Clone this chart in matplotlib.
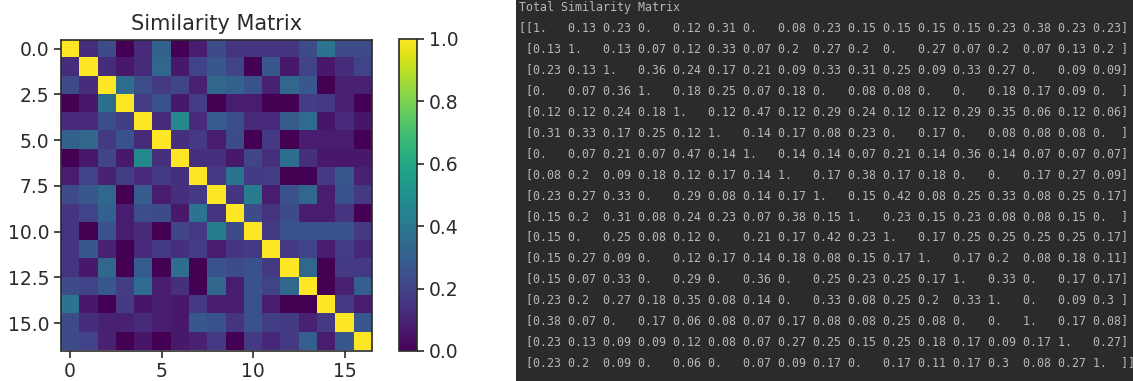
import numpy as np
import matplotlib
matplotlib.use("Agg")
import matplotlib.pyplot as plt

# similarity values as printed in the console (17 x 17)
sim = np.array([
    [1.0, 0.13, 0.23, 0.0, 0.12, 0.31, 0.0, 0.08, 0.23, 0.15, 0.15, 0.15, 0.15, 0.23, 0.38, 0.23, 0.23],
    [0.13, 1.0, 0.13, 0.07, 0.12, 0.33, 0.07, 0.2, 0.27, 0.2, 0.0, 0.27, 0.07, 0.2, 0.07, 0.13, 0.2],
    [0.23, 0.13, 1.0, 0.36, 0.24, 0.17, 0.21, 0.09, 0.33, 0.31, 0.25, 0.09, 0.33, 0.27, 0.0, 0.09, 0.09],
    [0.0, 0.07, 0.36, 1.0, 0.18, 0.25, 0.07, 0.18, 0.0, 0.08, 0.08, 0.0, 0.0, 0.18, 0.17, 0.09, 0.0],
    [0.12, 0.12, 0.24, 0.18, 1.0, 0.12, 0.47, 0.12, 0.29, 0.24, 0.12, 0.12, 0.29, 0.35, 0.06, 0.12, 0.06],
    [0.31, 0.33, 0.17, 0.25, 0.12, 1.0, 0.14, 0.17, 0.08, 0.23, 0.0, 0.17, 0.0, 0.08, 0.08, 0.08, 0.0],
    [0.0, 0.07, 0.21, 0.07, 0.47, 0.14, 1.0, 0.14, 0.14, 0.07, 0.21, 0.14, 0.36, 0.14, 0.07, 0.07, 0.07],
    [0.08, 0.2, 0.09, 0.18, 0.12, 0.17, 0.14, 1.0, 0.17, 0.38, 0.17, 0.18, 0.0, 0.0, 0.17, 0.27, 0.09],
    [0.23, 0.27, 0.33, 0.0, 0.29, 0.08, 0.14, 0.17, 1.0, 0.15, 0.42, 0.08, 0.25, 0.33, 0.08, 0.25, 0.17],
    [0.15, 0.2, 0.31, 0.08, 0.24, 0.23, 0.07, 0.38, 0.15, 1.0, 0.23, 0.15, 0.23, 0.08, 0.08, 0.15, 0.0],
    [0.15, 0.0, 0.25, 0.08, 0.12, 0.0, 0.21, 0.17, 0.42, 0.23, 1.0, 0.17, 0.25, 0.25, 0.25, 0.25, 0.17],
    [0.15, 0.27, 0.09, 0.0, 0.12, 0.17, 0.14, 0.18, 0.08, 0.15, 0.17, 1.0, 0.17, 0.2, 0.08, 0.18, 0.11],
    [0.15, 0.07, 0.33, 0.0, 0.29, 0.0, 0.36, 0.0, 0.25, 0.23, 0.25, 0.17, 1.0, 0.33, 0.0, 0.17, 0.17],
    [0.23, 0.2, 0.27, 0.18, 0.35, 0.08, 0.14, 0.0, 0.33, 0.08, 0.25, 0.2, 0.33, 1.0, 0.0, 0.09, 0.3],
    [0.38, 0.07, 0.0, 0.17, 0.06, 0.08, 0.07, 0.17, 0.08, 0.08, 0.25, 0.08, 0.0, 0.0, 1.0, 0.17, 0.08],
    [0.23, 0.13, 0.09, 0.09, 0.12, 0.08, 0.07, 0.27, 0.25, 0.15, 0.25, 0.18, 0.17, 0.09, 0.17, 1.0, 0.27],
    [0.23, 0.2, 0.09, 0.0, 0.06, 0.0, 0.07, 0.09, 0.17, 0.0, 0.17, 0.11, 0.17, 0.3, 0.08, 0.27, 1.0],
])

x_ticks = [0, 5, 10, 15]
y_ticks = [0.0, 2.5, 5.0, 7.5, 10.0, 12.5, 15.0]
cbar_ticks = [0.0, 0.2, 0.4, 0.6, 0.8, 1.0]

W, H = 1133, 381
fig = plt.figure(figsize=(W / 100, H / 100), dpi=100)
ink = "#2a2a2a"

# left: heatmap
ax = fig.add_axes([61 / W, 1 - 351 / H, 311 / W, 312 / H])
im = ax.imshow(sim, cmap="viridis", vmin=0, vmax=1)
ax.set_title("Similarity Matrix", fontsize=15, pad=7, color=ink)
ax.set_xticks(x_ticks)
ax.set_yticks(y_ticks)
ax.set_yticklabels(["%.1f" % t for t in y_ticks])
ax.tick_params(labelsize=13.5, length=5, width=1.2, colors=ink)
for s in ax.spines.values():
    s.set_linewidth(1.2)
    s.set_color(ink)

cax = fig.add_axes([399 / W, 1 - 351 / H, 18 / W, 312 / H])
cb = fig.colorbar(im, cax=cax, ticks=cbar_ticks)
cb.ax.tick_params(labelsize=13.5, length=5, width=1.2, colors=ink)
cb.outline.set_linewidth(1.2)
cb.outline.set_edgecolor(ink)

# right: console printout
con = fig.add_axes([516 / W, 0, 1 - 516 / W, 1])
con.set_facecolor("#2b2b2b")
con.set_xticks([])
con.set_yticks([])
for s in con.spines.values():
    s.set_visible(False)

to_x = lambda px: (px - 516) / (W - 516)
to_y = lambda py: 1 - py / H

txt = dict(family="DejaVu Sans Mono", fontsize=8.35, color="#b8b8b8",
           va="center", ha="left", clip_on=True)
lines = np.array2string(sim, precision=2, max_line_width=300).split("\n")
con.text(to_x(519), to_y(8), "Total Similarity Matrix", **txt)
for i, line in enumerate(lines):
    con.text(to_x(519), to_y(28 + 20.9 * i), line, **txt)

fig.savefig("out.png", dpi=100)
